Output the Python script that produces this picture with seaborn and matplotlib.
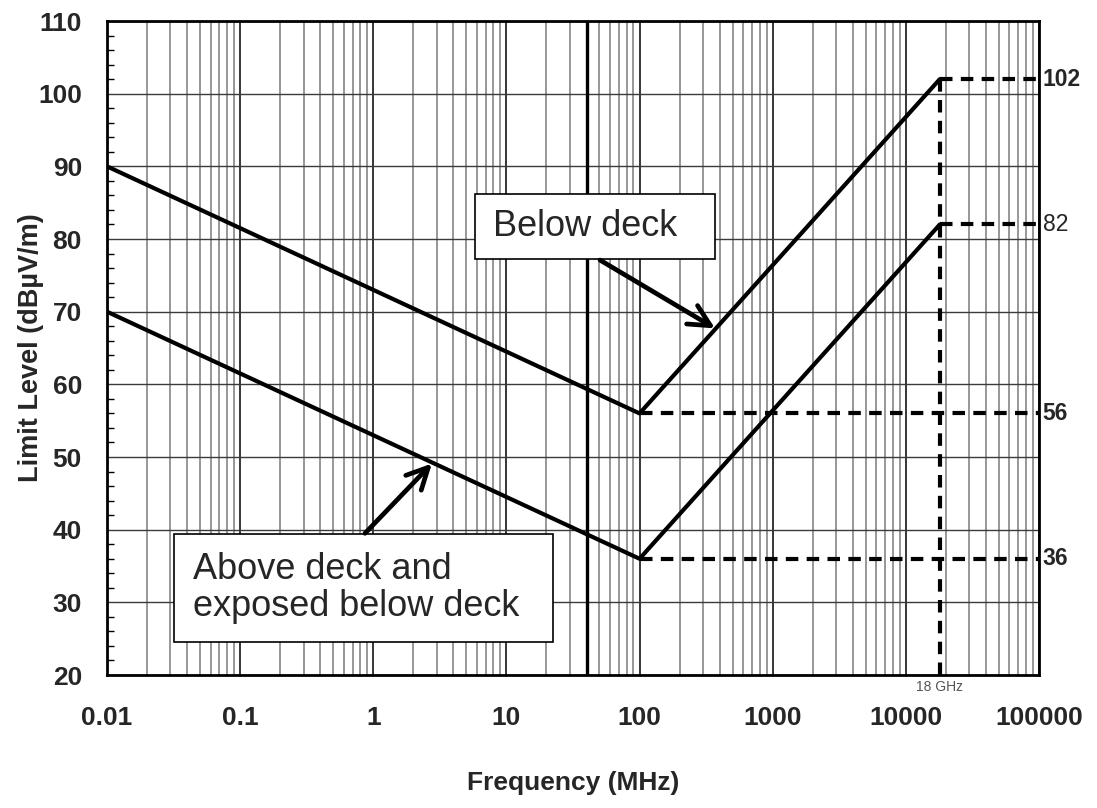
import numpy as np
import pandas as pd
import matplotlib
matplotlib.use("Agg")
import matplotlib.pyplot as plt
import seaborn as sns
from matplotlib.patches import Rectangle
from matplotlib.ticker import FixedLocator, NullFormatter, LogLocator

# ---- data ----
freq_mhz = [0.01, 100, 18000]
below_deck_level = [90, 56, 102]
above_deck_level = [70, 36, 82]
ref_levels_low = [56, 36]        # dashed from 100 MHz to axis end
ref_levels_high = [102, 82]      # dashed from 18 GHz to axis end
ref_label_text = ["102", "82", "56", "36"]
ref_label_values = [102, 82, 56, 36]
ref_label_bold = [True, False, True, True]
x_ticks = [0.01, 0.1, 1, 10, 100, 1000, 10000, 100000]
x_tick_labels = ["0.01", "0.1", "1", "10", "100", "1000", "10000", "100000"]
y_ticks = [20, 30, 40, 50, 60, 70, 80, 90, 100, 110]
f_corner = 100
f_18ghz = 18000
f_marker = 40

sns.set_theme(style="white")
plt.rcParams["font.family"] = ["Liberation Sans", "DejaVu Sans"]

df = pd.DataFrame({
    "freq": freq_mhz * 2,
    "level": below_deck_level + above_deck_level,
    "series": ["Below deck"] * 3 + ["Above deck"] * 3,
})

fig = plt.figure(figsize=(10.97, 8.08), dpi=100)
ax = fig.add_axes([0.0975, 0.1646, 0.8496, 0.8094])

ax.set_xscale("log")
ax.set_xlim(0.01, 100000)
ax.set_ylim(20, 110)

# grid
ax.xaxis.set_major_locator(FixedLocator(x_ticks))
ax.xaxis.set_minor_locator(LogLocator(base=10, subs=np.arange(2, 10), numticks=100))
ax.xaxis.set_minor_formatter(NullFormatter())
ax.set_xticks(x_ticks)
ax.set_xticklabels(x_tick_labels)
ax.set_yticks(y_ticks)
ax.set_yticks(np.arange(20, 111, 2), minor=True)
ax.grid(which="major", axis="x", color="black", lw=1.1)
ax.grid(which="minor", axis="x", color="#7a7a7a", lw=1.1)
ax.grid(which="major", axis="y", color="#3a3a3a", lw=1.0)
ax.axvline(f_marker, color="black", lw=2.4, zorder=1)

ax.tick_params(axis="x", which="major", length=0, pad=22, labelsize=19)
ax.tick_params(axis="x", which="minor", length=0)
ax.tick_params(axis="y", which="major", length=0, pad=18, labelsize=19)
ax.tick_params(axis="y", which="minor", direction="in", length=5, width=1, color="black", left=True)
for lab in ax.get_xticklabels() + ax.get_yticklabels():
    lab.set_fontweight("bold")

for sp in ax.spines.values():
    sp.set_color("black")
    sp.set_linewidth(2)
    sp.set_zorder(6)

# limit lines
sns.lineplot(data=df, x="freq", y="level", units="series", estimator=None,
             color="black", lw=3, ax=ax, legend=False, zorder=4)

# dashed reference lines
dash = (0, (3, 2))
for lv in ref_levels_low:
    ax.hlines(lv, f_corner, 100000, colors="black", lw=3, linestyles=dash, zorder=4)
for lv in ref_levels_high:
    ax.hlines(lv, f_18ghz, 100000, colors="black", lw=3, linestyles=dash, zorder=4)
ax.vlines(f_18ghz, 20, max(ref_levels_high), colors="black", lw=3, linestyles=dash, zorder=4)

# right-side labels
for txt, v, b in zip(ref_label_text, ref_label_values, ref_label_bold):
    ax.text(1.004, v, txt, transform=ax.get_yaxis_transform(), ha="left", va="center",
            fontsize=16.5, fontweight="bold" if b else "normal", clip_on=False)

ax.text(f_18ghz, 18.4, "18 GHz", ha="center", va="center", fontsize=10,
        color="#555555", clip_on=False)

ax.set_xlabel("Frequency (MHz)", fontsize=19, fontweight="bold", labelpad=30)
ax.set_ylabel("Limit Level (dBµV/m)", fontsize=19.5, fontweight="bold", labelpad=-4)

# annotation boxes
box1 = Rectangle((0.395, 0.636), 0.257, 0.0995, transform=ax.transAxes,
                 facecolor="white", edgecolor="black", lw=1.2, zorder=7)
ax.add_patch(box1)
ax.text(0.414, 0.6865, "Below deck", transform=ax.transAxes, ha="left", va="center",
        fontsize=26, zorder=8)
box2 = Rectangle((0.0719, 0.0505), 0.4066, 0.1651, transform=ax.transAxes,
                 facecolor="white", edgecolor="black", lw=1.2, zorder=7)
ax.add_patch(box2)
ax.text(0.0923, 0.133, "Above deck and\nexposed below deck", transform=ax.transAxes,
        ha="left", va="center", fontsize=26, linespacing=1.1, zorder=8)

arrow_style = "->,head_length=0.7,head_width=0.35"
ax.annotate("", xy=(369, 67.7), xytext=(50.5, 77.1),
            arrowprops=dict(arrowstyle=arrow_style, lw=3.4, color="black",
                            shrinkA=0, shrinkB=0, mutation_scale=22), zorder=8)
ax.annotate("", xy=(2.76, 49.1), xytext=(0.867, 39.5),
            arrowprops=dict(arrowstyle=arrow_style, lw=3.4, color="black",
                            shrinkA=0, shrinkB=0, mutation_scale=22), zorder=8)

fig.savefig("out.png", dpi=100, facecolor="white")
